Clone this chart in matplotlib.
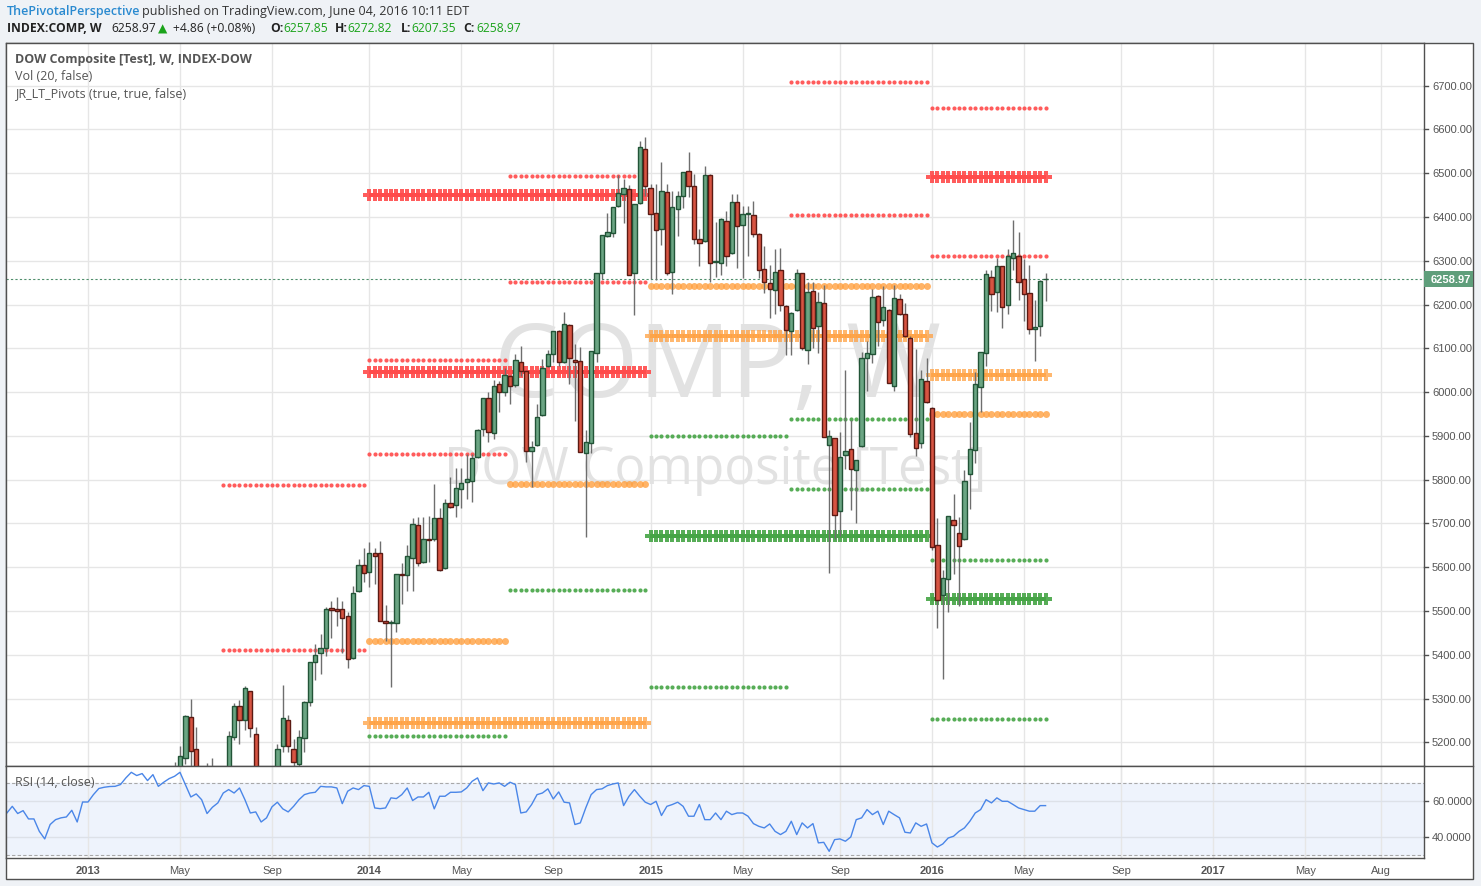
import matplotlib
matplotlib.use('Agg')
import matplotlib.pyplot as plt
from matplotlib.patches import Rectangle
import pandas as pd

W, H = 1481, 887

# weekly bars, bar 0 = week of 2013-01-07
base_date = pd.Timestamp('2013-01-07')
first_bar = 16

opens = [5130, 5110, 5163, 5257, 5184, 5120, 5100, 5135, 5110, 5080,
         5120, 5211, 5284, 5250, 5316, 5220, 5130, 5100, 5090, 5120,
         5192, 5252, 5184, 5150, 5209, 5293, 5383, 5403, 5415, 5507,
         5505, 5504, 5488, 5392, 5545, 5606, 5590, 5632, 5632, 5476,
         5472, 5472, 5584, 5581, 5622, 5696, 5611, 5664, 5664, 5712,
         5599, 5746, 5741, 5778, 5794, 5798, 5851, 5915, 5986, 5906,
         6018, 6000, 6036, 6017, 6068, 6048, 5866, 5878, 5947, 6059,
         6086, 6139, 6068, 6153, 6073, 6070, 5860, 5883, 6089, 6271,
         6356, 6363, 6424, 6452, 6463, 6271, 6431, 6555, 6466, 6408,
         6372, 6456, 6274, 6418, 6447, 6504, 6470, 6349, 6345, 6495,
         6297, 6294, 6390, 6317, 6434, 6381, 6406, 6404, 6361, 6281,
         6249, 6233, 6278, 6196, 6139, 6187, 6271, 6096, 6230, 6150,
         6203, 5878, 5894, 5728, 5856, 5869, 5821, 5876, 6079, 6086,
         6219, 6164, 6187, 6015, 6212, 6178, 6123, 5906, 5883, 6025,
         5963, 5651, 5537, 5574, 5707, 5677, 5665, 5814, 5867, 6011,
         6089, 6264, 6228, 6287, 6198, 6306, 6312, 6258, 6226, 6143,
         6150, 6257.85]
highs = [5156, 5192, 5262, 5299, 5236, 5140, 5153, 5164, 5140, 5130,
         5225, 5290, 5297, 5329, 5318, 5234, 5140, 5135, 5140, 5195,
         5331, 5262, 5207, 5227, 5294, 5384, 5424, 5447, 5508, 5522,
         5532, 5522, 5498, 5556, 5619, 5643, 5658, 5643, 5659, 5514,
         5480, 5584, 5610, 5651, 5712, 5715, 5715, 5718, 5790, 5736,
         5755, 5807, 5827, 5827, 5859, 5859, 5915, 5986, 6000, 6028,
         6025, 6054, 6038, 6086, 6105, 6050, 5888, 5972, 6076, 6096,
         6139, 6141, 6183, 6155, 6109, 6102, 5913, 6093, 6271, 6358,
         6408, 6422, 6495, 6486, 6472, 6429, 6573, 6582, 6475, 6475,
         6525, 6475, 6459, 6459, 6502, 6548, 6498, 6372, 6516, 6498,
         6388, 6397, 6413, 6452, 6452, 6424, 6424, 6436, 6363, 6333,
         6290, 6326, 6329, 6198, 6182, 6281, 6273, 6251, 6251, 6228,
         6244, 5913, 5896, 5908, 6050, 5936, 5846, 6091, 6116, 6235,
         6221, 6242, 6189, 6244, 6223, 6203, 6128, 6098, 6050, 6077,
         5965, 5712, 5594, 5716, 5768, 5714, 5821, 5931, 6045, 6091,
         6278, 6280, 6306, 6289, 6326, 6392, 6365, 6303, 6290, 6210,
         6255, 6272.82]
lows = [5105, 5095, 5150, 5130, 5090, 5070, 5080, 5100, 5060, 5050,
        5110, 5205, 5197, 5227, 5211, 5120, 5080, 5060, 5070, 5110,
        5177, 5177, 5140, 5130, 5178, 5282, 5343, 5357, 5396, 5439,
        5466, 5405, 5370, 5390, 5543, 5567, 5555, 5561, 5476, 5431,
        5326, 5451, 5516, 5546, 5546, 5603, 5609, 5611, 5660, 5592,
        5596, 5736, 5715, 5736, 5755, 5748, 5849, 5899, 5885, 5892,
        5954, 5992, 5972, 6012, 6036, 5841, 5784, 5876, 5945, 6057,
        6068, 6059, 6066, 6019, 5933, 5862, 5668, 5860, 6068, 6258,
        6354, 6354, 6422, 6386, 6267, 6177, 6429, 6449, 6258, 6255,
        6335, 6268, 6223, 6357, 6420, 6445, 6338, 6289, 6343, 6251,
        6264, 6268, 6289, 6315, 6283, 6260, 6310, 6354, 6260, 6226,
        6169, 6178, 6185, 6084, 6084, 6185, 6096, 6064, 6100, 6089,
        5897, 5586, 5664, 5672, 5824, 5731, 5700, 5874, 6002, 6066,
        6105, 6150, 6020, 6002, 6175, 6125, 5897, 5853, 5872, 5975,
        5640, 5462, 5345, 5498, 5585, 5512, 5663, 5734, 5837, 5954,
        6059, 6185, 6182, 6146, 6178, 6280, 6210, 6162, 6132, 6072,
        6127, 6207.35]
closes = [5120, 5168, 5259, 5179, 5120, 5100, 5135, 5110, 5080, 5120,
          5215, 5282, 5252, 5323, 5232, 5130, 5100, 5090, 5120, 5184,
          5255, 5191, 5154, 5213, 5293, 5383, 5399, 5415, 5504, 5503,
          5500, 5485, 5390, 5540, 5604, 5586, 5632, 5625, 5476, 5472,
          5474, 5584, 5581, 5625, 5698, 5609, 5664, 5661, 5712, 5594,
          5746, 5738, 5780, 5792, 5801, 5849, 5913, 5986, 5908, 6015,
          6000, 6038, 6013, 6073, 6049, 5865, 5874, 5942, 6054, 6086,
          6139, 6068, 6155, 6077, 6068, 5862, 5885, 6093, 6271, 6358,
          6365, 6422, 6454, 6466, 6267, 6429, 6559, 6470, 6406, 6370,
          6459, 6271, 6422, 6447, 6502, 6470, 6349, 6340, 6495, 6294,
          6299, 6395, 6310, 6434, 6379, 6406, 6408, 6361, 6278, 6251,
          6235, 6274, 6198, 6141, 6180, 6271, 6100, 6228, 6146, 6205,
          5897, 5899, 5719, 5851, 5865, 5824, 5846, 6079, 6089, 6217,
          6159, 6194, 6020, 6214, 6178, 6127, 5904, 5872, 6031, 5977,
          5645, 5526, 5576, 5716, 5696, 5649, 5796, 5869, 6018, 6091,
          6269, 6223, 6287, 6194, 6312, 6317, 6251, 6223, 6143, 6148,
          6253, 6258.97]

# RSI(14) per weekly bar, first value at bar -15
rsi_first_bar = -15
rsi_values = [53.3, 57.0, 53.0, 54.6, 50.0, 50.0, 43.1, 38.9, 46.9, 49.6,
              50.6, 51.1, 54.8, 48.3, 59.4, 59.4, 63.5, 66.9, 67.6, 68.0,
              68.1, 69.1, 72.8, 75.9, 74.1, 75.2, 71.3, 74.6, 68.1, 70.4,
              72.4, 73.7, 75.9, 69.1, 62.2, 63.9, 60.7, 53.0, 56.5, 58.9,
              64.4, 66.3, 64.4, 67.2, 60.7, 53.3, 53.9, 48.3, 50.6, 56.7,
              59.3, 55.6, 53.9, 57.0, 60.7, 63.5, 64.4, 64.8, 68.1, 67.8,
              67.8, 67.2, 58.5, 65.4, 67.2, 66.3, 68.5, 68.1, 56.1, 55.7,
              56.1, 61.7, 61.3, 63.5, 67.2, 60.2, 62.2, 62.2, 64.8, 55.6,
              62.6, 62.6, 64.8, 64.8, 65.0, 67.2, 70.9, 72.8, 65.7, 70.0,
              69.4, 70.0, 68.1, 70.4, 69.1, 53.3, 53.9, 58.0, 63.5, 64.4,
              66.7, 61.1, 65.0, 59.3, 58.9, 46.9, 47.8, 56.1, 63.5, 66.3,
              66.7, 68.5, 69.4, 70.0, 57.4, 62.6, 66.3, 62.6, 59.3, 58.0,
              59.8, 51.9, 57.0, 58.0, 59.3, 57.0, 51.5, 51.5,
              58.0, 49.6, 49.6, 53.3, 49.6, 54.3, 52.4, 53.3, 53.3, 51.5,
              47.4, 45.9, 45.0, 47.2, 43.1, 41.3, 43.1, 48.7, 41.3, 47.8,
              45.0, 47.4, 36.7, 37.0, 32.0, 38.5, 38.9, 37.6, 40.0, 49.6,
              50.6, 55.2, 52.4, 54.3, 46.9, 54.3, 52.4, 50.6, 42.6, 42.2,
              47.8, 45.9, 47.2, 36.7, 34.4, 36.1, 39.4, 40.4, 43.1, 45.0,
              48.7, 53.3, 55.2, 60.7, 58.9, 61.7, 59.8, 59.8, 58.0, 56.1,
              55.2, 54.3, 54.3, 57.4, 57.4]

# pivot levels: (start week, end week, level)
red_thin = [('2013-07-01', '2013-12-30', 5788), ('2013-07-01', '2013-12-30', 5411),
            ('2014-01-06', '2014-06-30', 6073), ('2014-01-06', '2014-06-30', 5858),
            ('2014-07-07', '2014-12-29', 6494), ('2014-07-07', '2014-12-29', 6252),
            ('2015-07-06', '2015-12-28', 6708), ('2015-07-06', '2015-12-28', 6405),
            ('2016-01-04', '2016-05-30', 6649), ('2016-01-04', '2016-05-30', 6312)]
red_thick = [('2014-01-06', '2014-12-29', 6450), ('2014-01-06', '2014-12-29', 6045),
             ('2016-01-04', '2016-05-30', 6491)]
orange_mid = [('2014-01-06', '2014-06-30', 5432), ('2014-07-07', '2014-12-29', 5789),
              ('2015-01-05', '2015-12-28', 6242), ('2016-01-04', '2016-05-30', 5950)]
orange_thick = [('2014-01-06', '2014-12-29', 5244), ('2015-01-05', '2015-12-28', 6129),
                ('2016-01-04', '2016-05-30', 6039)]
green_thin = [('2014-01-06', '2014-06-30', 5214), ('2014-07-07', '2014-12-29', 5548),
              ('2015-01-05', '2015-06-29', 5900), ('2015-01-05', '2015-06-29', 5326),
              ('2015-07-06', '2015-12-28', 5938), ('2015-07-06', '2015-12-28', 5778),
              ('2016-01-04', '2016-05-30', 5616), ('2016-01-04', '2016-05-30', 5253)]
green_thick = [('2015-01-05', '2015-12-28', 5672), ('2016-01-04', '2016-05-30', 5527)]

tick_dates = ['2013-01-07', '2013-05-06', '2013-09-02', '2014-01-06', '2014-05-05',
              '2014-09-01', '2015-01-05', '2015-05-04', '2015-09-07', '2016-01-04',
              '2016-05-02', '2016-09-05', '2017-01-02', '2017-05-01', '2017-08-07']
tick_labels = ['2013', 'May', 'Sep', '2014', 'May', 'Sep', '2015', 'May', 'Sep',
               '2016', 'May', 'Sep', '2017', 'May', 'Aug']
price_ticks = [5200, 5300, 5400, 5500, 5600, 5700, 5800, 5900, 6000, 6100,
               6200, 6300, 6400, 6500, 6600, 6700]
last_price = 6258.97


def bar_of(d):
    return (pd.Timestamp(d) - base_date).days / 7.0


def fx(px):
    return px / W


def fy(py):
    return 1 - py / H


BG = '#eff2f6'
GRID = '#e6e6e6'
TXT = '#555555'
FRAME = '#505050'

fig = plt.figure(figsize=(W / 100, H / 100), dpi=100, facecolor=BG)

# white chart area, behind the axes
fig.patches.append(Rectangle((fx(6), fy(880)), fx(1473) - fx(6), fy(44) - fy(880),
                             transform=fig.transFigure, facecolor='white',
                             edgecolor=FRAME, lw=1, zorder=-5))

ax = fig.add_axes([fx(6), fy(767), fx(1424) - fx(6), fy(44) - fy(767)])
ax_rsi = fig.add_axes([fx(6), fy(859), fx(1424) - fx(6), fy(767) - fy(859)])

xmin, xmax = -15.16, 246.95
tick_pos = [bar_of(d) for d in tick_dates]

for a in (ax, ax_rsi):
    a.set_xlim(xmin, xmax)
    a.set_facecolor('white')
    a.set_xticks([])
    a.set_yticks([])
    for s in a.spines.values():
        s.set_color(FRAME)
        s.set_linewidth(1)
    for t in tick_pos:
        a.axvline(t, color=GRID, lw=1, zorder=0)

ax.set_ylim(5145.8, 6797.5)
for p in price_ticks:
    ax.axhline(p, color=GRID, lw=1, zorder=0)

# watermark
ax.text(0.5015, 0.548, 'COMP, W', transform=ax.transAxes, ha='center', va='center',
        fontsize=74, color='#e2e2e2', family='Open Sans', zorder=0.5)
ax.text(0.5, 0.41, 'DOW Composite [Test]', transform=ax.transAxes, ha='center',
        va='center', fontsize=37, color='#e2e2e2', family='Open Sans', zorder=0.5)


# pivot levels
def draw_levels(levels, color, marker, ms, alpha, mew=0):
    for start, end, lvl in levels:
        b0, b1 = int(round(bar_of(start))), int(round(bar_of(end)))
        xs = list(range(b0, b1 + 1))
        ax.plot(xs, [lvl] * len(xs), ls='none', marker=marker, ms=ms, color=color,
                alpha=alpha, mew=mew, zorder=2)


draw_levels(red_thin, '#ff4a4a', 'o', 3.0, 0.9)
draw_levels(green_thin, '#45a445', 'o', 3.0, 0.9)
draw_levels(orange_mid, '#ffa040', 'o', 5.0, 0.8)
draw_levels(red_thick, '#ff4a4a', 'P', 8.0, 0.9)
draw_levels(orange_thick, '#ffa040', 'P', 8.5, 0.75)
draw_levels(green_thick, '#45a445', 'P', 8.0, 0.9)

# candles
xs = list(range(first_bar, first_bar + len(opens)))
ax.vlines(xs, lows, highs, color='#6e6e6e', lw=1, zorder=3)
up = [c >= o for o, c in zip(opens, closes)]
body_bottom = [min(o, c) for o, c in zip(opens, closes)]
body_height = [max(abs(c - o), 0.5) for o, c in zip(opens, closes)]
ax.bar(xs, body_height, bottom=body_bottom, width=0.8,
       color=['#6ba583' if u else '#d75442' for u in up],
       edgecolor=['#225437' if u else '#5b1a13' for u in up], lw=1, zorder=4)

# last price line
ax.axhline(last_price, color='#4f8f6c', lw=0.8, ls=(0, (2, 2)), zorder=1)

# legend texts
fig.text(fx(15), fy(60), 'DOW Composite [Test], W, INDEX-DOW', fontsize=9,
         fontweight='bold', color=TXT, va='center', family='Open Sans')
fig.text(fx(15), fy(77), 'Vol (20, false)', fontsize=9, color=TXT, va='center',
         family='Open Sans')
fig.text(fx(15), fy(94), 'JR_LT_Pivots (true, true, false)', fontsize=9, color=TXT,
         va='center', family='Open Sans')

# RSI pane
ax_rsi.set_ylim(28.3, 79.4)
ax_rsi.axhspan(30, 70, color='#eef3fc', zorder=0)
for t in tick_pos:
    ax_rsi.axvline(t, color=GRID, lw=1, zorder=0.5)
for lv in (60, 40):
    ax_rsi.axhline(lv, color='#dde1e8', lw=1, zorder=0.6)
for lv in (70, 30):
    ax_rsi.axhline(lv, color='#a8a8a8', lw=0.8, ls=(0, (3, 2)), zorder=0.7)
rsi_x = list(range(rsi_first_bar, rsi_first_bar + len(rsi_values)))
ax_rsi.plot(rsi_x, rsi_values, color='#4a86e8', lw=1, zorder=2)
fig.text(fx(15), fy(783), 'RSI (14, close)', fontsize=9, color=TXT, va='center',
         family='Open Sans')

# right price scale
fig.add_artist(plt.Line2D([fx(1424), fx(1473)], [fy(767), fy(767)], color=FRAME, lw=1))
for p in price_ticks:
    y = fig.transFigure.inverted().transform(ax.transData.transform((0, p)))[1]
    fig.add_artist(plt.Line2D([fx(1424), fx(1428)], [y, y], color=FRAME, lw=1))
    fig.text(fx(1432), y, '%.2f' % p, fontsize=8, color=TXT, va='center',
             family='Liberation Sans')
for lv in (60, 40):
    y = fig.transFigure.inverted().transform(ax_rsi.transData.transform((0, lv)))[1]
    fig.add_artist(plt.Line2D([fx(1424), fx(1428)], [y, y], color=FRAME, lw=1))
    fig.text(fx(1432), y, '%.4f' % lv, fontsize=8, color=TXT, va='center',
             family='Liberation Sans')

# last price label
ylp = fig.transFigure.inverted().transform(ax.transData.transform((0, last_price)))[1]
fig.patches.append(Rectangle((fx(1424), ylp - 8 / H), fx(1473) - fx(1424), 16 / H,
                             transform=fig.transFigure, facecolor='#5f9e7b',
                             edgecolor='none', zorder=5))
fig.text(fx(1431), ylp, '%.2f' % last_price, fontsize=8, color='white', va='center',
         fontweight='bold', family='Liberation Sans', zorder=6)

# time axis labels
for t, lab in zip(tick_pos, tick_labels):
    xf = fig.transFigure.inverted().transform(ax_rsi.transData.transform((t, 0)))[0]
    bold = lab.isdigit()
    fig.text(xf, fy(871), lab, fontsize=8, color=TXT, ha='center', va='center',
             fontweight='bold' if bold else 'normal', family='Liberation Sans')

# header
fig.text(fx(7), fy(11), 'ThePivotalPerspective', fontsize=9, color='#2a8ad0',
         va='center', family='Open Sans', fontweight='semibold')
fig.text(fx(142), fy(11), 'published on TradingView.com, June 04, 2016 10:11 EDT',
         fontsize=9, color='#333333', va='center', family='Open Sans')
hdr = [(7, 'INDEX:COMP, W', '#222222', 'bold'), (111, '6258.97', '#222222', 'normal'),
       (158, '\u25b2', '#1aa31a', 'normal'), (173, '+4.86 (+0.08%)', '#222222', 'normal'),
       (270, 'O:', '#222222', 'bold'), (283, '6257.85', '#1aa31a', 'normal'),
       (335, 'H:', '#222222', 'bold'), (347, '6272.82', '#1aa31a', 'normal'),
       (401, 'L:', '#222222', 'bold'), (411, '6207.35', '#1aa31a', 'normal'),
       (463, 'C:', '#222222', 'bold'), (476, '6258.97', '#1aa31a', 'normal')]
for px, s, c, w in hdr:
    fig.text(fx(px), fy(29), s, fontsize=8.7, color=c, va='center', fontweight=w,
             family=['Open Sans', 'DejaVu Sans'])

fig.savefig('out.png', dpi=100, facecolor=BG)
